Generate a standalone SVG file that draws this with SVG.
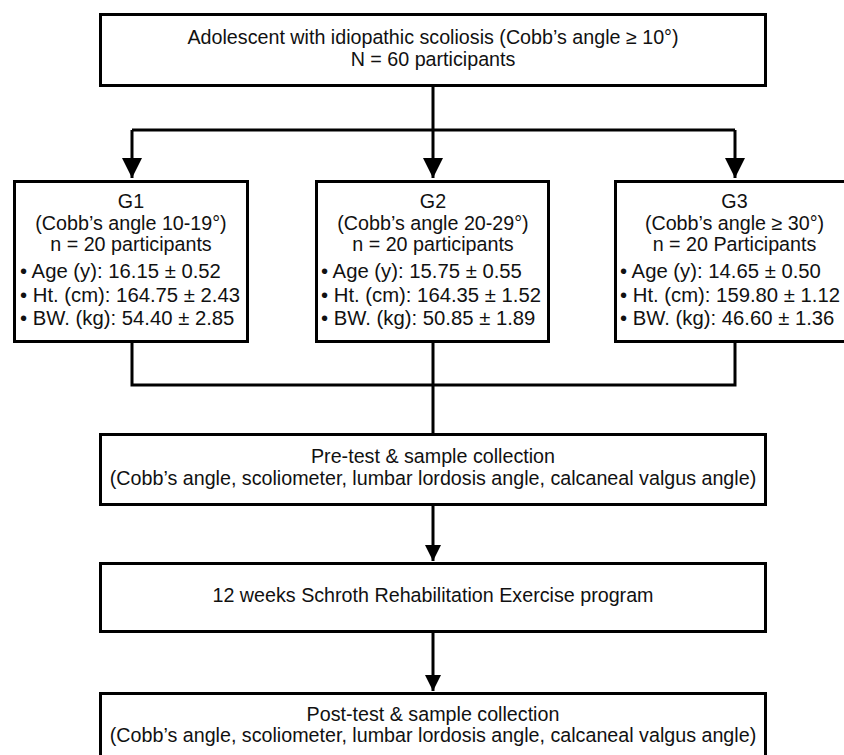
<svg xmlns="http://www.w3.org/2000/svg" width="844" height="755" viewBox="0 0 844 755">
<defs>
<style>
.box{fill:#fff;stroke:#000;stroke-width:3}
.ln{fill:none;stroke:#000;stroke-width:3}
text{font-family:"Liberation Sans",Arial,sans-serif;font-size:19.7px;fill:#111}
.c{text-anchor:middle}
.b{font-size:20.3px}
</style>
<marker id="ah" markerUnits="userSpaceOnUse" markerWidth="20" markerHeight="20" refX="20" refY="10" orient="auto" viewBox="0 0 20 20">
<path d="M0,0 L20,10 L0,20 Z" fill="#000"/>
</marker>
<marker id="ah2" markerUnits="userSpaceOnUse" markerWidth="16" markerHeight="16" refX="16" refY="8" orient="auto" viewBox="0 0 16 16">
<path d="M0,0 L16,8 L0,16 Z" fill="#000"/>
</marker>
</defs>
<rect width="844" height="755" fill="#fff"/>
<g id="connectors">
<path class="ln" d="M433,87 V130 M132,130 H735"/>
<path class="ln" d="M132,130 V178" marker-end="url(#ah)"/>
<path class="ln" d="M433,130 V178" marker-end="url(#ah)"/>
<path class="ln" d="M735,130 V178" marker-end="url(#ah)"/>
<path class="ln" d="M132,343 V385 H735 V343 M433,343 V434"/>
<path class="ln" d="M433,506 V561" marker-end="url(#ah2)"/>
<path class="ln" d="M433,633 V691" marker-end="url(#ah2)"/>
</g>
<g id="top">
<rect class="box" x="100.5" y="14.5" width="665" height="71"/>
<text class="c" x="433" y="43.5">Adolescent with idiopathic scoliosis (Cobb’s angle ≥ 10°)</text>
<text class="c" x="433" y="65.5">N = 60 participants</text>
</g>
<g id="g1">
<rect class="box" x="14.5" y="181.5" width="233" height="160"/>
<text class="c" x="131" y="208">G1</text>
<text class="c" x="131" y="229.5">(Cobb’s angle 10-19°)</text>
<text class="c" x="131" y="251">n = 20 participants</text>
<text class="b" x="20" y="278">• Age (y): 16.15 ± 0.52</text>
<text class="b" x="20" y="301.5">• Ht. (cm): 164.75 ± 2.43</text>
<text class="b" x="20" y="325">• BW. (kg): 54.40 ± 2.85</text>
</g>
<g id="g2">
<rect class="box" x="316.5" y="181.5" width="232" height="160"/>
<text class="c" x="433" y="208">G2</text>
<text class="c" x="433" y="229.5">(Cobb’s angle 20-29°)</text>
<text class="c" x="433" y="251">n = 20 participants</text>
<text class="b" x="321" y="278">• Age (y): 15.75 ± 0.55</text>
<text class="b" x="321" y="301.5">• Ht. (cm): 164.35 ± 1.52</text>
<text class="b" x="321" y="325">• BW. (kg): 50.85 ± 1.89</text>
</g>
<g id="g3">
<rect class="box" x="615.5" y="181.5" width="235" height="160"/>
<text class="c" x="734.5" y="208">G3</text>
<text class="c" x="734.5" y="229.5">(Cobb’s angle ≥ 30°)</text>
<text class="c" x="734.5" y="251">n = 20 Participants</text>
<text class="b" x="620" y="278">• Age (y): 14.65 ± 0.50</text>
<text class="b" x="620" y="301.5">• Ht. (cm): 159.80 ± 1.12</text>
<text class="b" x="620" y="325">• BW. (kg): 46.60 ± 1.36</text>
</g>
<g id="pretest">
<rect class="box" x="100.5" y="434.5" width="665" height="70"/>
<text class="c" x="433" y="463">Pre-test &amp; sample collection</text>
<text class="c" x="433" y="485">(Cobb’s angle, scoliometer, lumbar lordosis angle, calcaneal valgus angle)</text>
</g>
<g id="program">
<rect class="box" x="100.5" y="563.5" width="665" height="68"/>
<text class="c" x="433" y="602">12 weeks Schroth Rehabilitation Exercise program</text>
</g>
<g id="posttest">
<rect class="box" x="100.5" y="693.5" width="665" height="80"/>
<text class="c" x="433" y="721">Post-test &amp; sample collection</text>
<text class="c" x="433" y="742">(Cobb’s angle, scoliometer, lumbar lordosis angle, calcaneal valgus angle)</text>
</g>
</svg>
